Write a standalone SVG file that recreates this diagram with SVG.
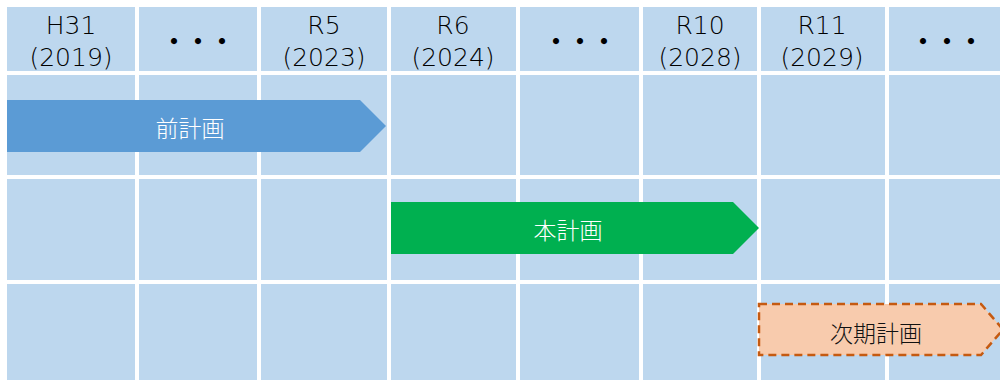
<svg xmlns="http://www.w3.org/2000/svg" width="1000" height="380" viewBox="0 0 1000 380">
<style>
.cell{fill:#BDD7EE}
.hd{font-family:"DejaVu Sans","Liberation Sans",sans-serif;font-size:25px;font-weight:300;fill:#000;text-anchor:middle}
.dots{font-family:"Noto Sans CJK JP",sans-serif;font-size:24px;font-weight:bold;fill:#000;text-anchor:middle}
.lbl{font-family:"Noto Sans CJK JP",sans-serif;font-size:23px;font-weight:300;text-anchor:middle}
</style>
<rect width="1000" height="380" fill="#FFFFFF"/>
<g id="grid">
<rect class="cell" x="7" y="7" width="128" height="64"/>
<rect class="cell" x="139" y="7" width="118" height="64"/>
<rect class="cell" x="261" y="7" width="126" height="64"/>
<rect class="cell" x="391" y="7" width="125" height="64"/>
<rect class="cell" x="520" y="7" width="119" height="64"/>
<rect class="cell" x="643" y="7" width="114" height="64"/>
<rect class="cell" x="761" y="7" width="124" height="64"/>
<rect class="cell" x="889" y="7" width="118" height="64"/>
<rect class="cell" x="7" y="75" width="128" height="100"/>
<rect class="cell" x="139" y="75" width="118" height="100"/>
<rect class="cell" x="261" y="75" width="126" height="100"/>
<rect class="cell" x="391" y="75" width="125" height="100"/>
<rect class="cell" x="520" y="75" width="119" height="100"/>
<rect class="cell" x="643" y="75" width="114" height="100"/>
<rect class="cell" x="761" y="75" width="124" height="100"/>
<rect class="cell" x="889" y="75" width="118" height="100"/>
<rect class="cell" x="7" y="179" width="128" height="101"/>
<rect class="cell" x="139" y="179" width="118" height="101"/>
<rect class="cell" x="261" y="179" width="126" height="101"/>
<rect class="cell" x="391" y="179" width="125" height="101"/>
<rect class="cell" x="520" y="179" width="119" height="101"/>
<rect class="cell" x="643" y="179" width="114" height="101"/>
<rect class="cell" x="761" y="179" width="124" height="101"/>
<rect class="cell" x="889" y="179" width="118" height="101"/>
<rect class="cell" x="7" y="284" width="128" height="96"/>
<rect class="cell" x="139" y="284" width="118" height="96"/>
<rect class="cell" x="261" y="284" width="126" height="96"/>
<rect class="cell" x="391" y="284" width="125" height="96"/>
<rect class="cell" x="520" y="284" width="119" height="96"/>
<rect class="cell" x="643" y="284" width="114" height="96"/>
<rect class="cell" x="761" y="284" width="124" height="96"/>
<rect class="cell" x="889" y="284" width="118" height="96"/>
</g>
<g id="headers">
<g id="h-h31"><text class="hd" x="71" y="34">H31</text><text class="hd" x="71" y="66">(2019)</text></g>
<g id="h-dots1"><text class="dots" x="198" y="50">・・・</text></g>
<g id="h-r5"><text class="hd" x="324" y="34">R5</text><text class="hd" x="324" y="66">(2023)</text></g>
<g id="h-r6"><text class="hd" x="453" y="34">R6</text><text class="hd" x="453" y="66">(2024)</text></g>
<g id="h-dots2"><text class="dots" x="580" y="50">・・・</text></g>
<g id="h-r10"><text class="hd" x="700" y="34">R10</text><text class="hd" x="700" y="66">(2028)</text></g>
<g id="h-r11"><text class="hd" x="822" y="34">R11</text><text class="hd" x="822" y="66">(2029)</text></g>
<g id="h-dots3"><text class="dots" x="947" y="50">・・・</text></g>
</g>
<g id="plan-prev">
<polygon points="7,100 360,100 386,126 360,152 7,152" fill="#5B9BD5"/>
<text class="lbl" x="190" y="137" fill="#FFFFFF">前計画</text>
</g>
<g id="plan-current">
<polygon points="391,202 733,202 759,228 733,254 391,254" fill="#00B050"/>
<text class="lbl" x="568" y="239" fill="#FFFFFF">本計画</text>
</g>
<g id="plan-next">
<polygon points="759,304 981,304 1003,329.5 981,355 759,355" fill="#F8CBAD" stroke="#C55A11" stroke-width="2.5" stroke-dasharray="8,5"/>
<text class="lbl" x="876" y="342" fill="#111111">次期計画</text>
</g>
</svg>
